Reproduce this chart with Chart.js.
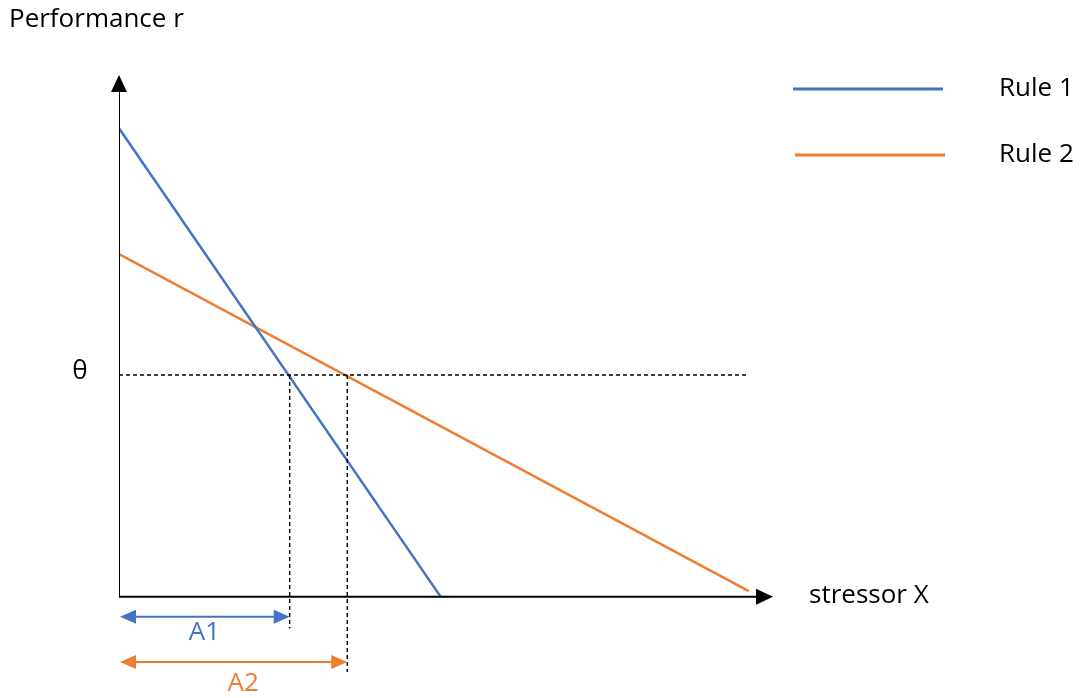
<!DOCTYPE html>
<html>
<head>
<meta charset="utf-8">
<script src="https://cdn.jsdelivr.net/npm/chart.js@4"></script>
<style>
  html, body { margin: 0; padding: 0; background: #ffffff; }
  #wrap { width: 1081px; height: 698px; position: relative; }
</style>
</head>
<body>
<div id="wrap"><canvas id="ruleChart"></canvas></div>
<script>
// values (schematic units)
const rule1Points = [{ x: 0, y: 8.98 }, { x: 4.92, y: 0 }];
const rule2Points = [{ x: 0, y: 6.57 }, { x: 9.63, y: 0.11 }];
const thetaValue = 4.25;
const thetaEnd = 9.62;
const a1Value = 2.61;
const a2Value = 3.49;
const a1Row = -0.38;
const a2Row = -1.25;
const seriesNames = ['Rule 1', 'Rule 2'];
const seriesColors = ['#4472C4', '#ED7D31'];

const FONT = '"Open Sans", "Liberation Sans", sans-serif';

const blackLine = (data, extra) => Object.assign({
    data: data,
    showLine: true,
    borderColor: '#000000',
    borderWidth: 1.4,
    pointRadius: 0,
    fill: false
}, extra || {});

// arrowheads, labels and the legend are drawn on top of the datasets
const decorPlugin = {
    id: 'decor',
    afterDatasetsDraw: (chart) => {
        const { ctx, scales: { x, y } } = chart;
        const px = (v) => x.getPixelForValue(v);
        const py = (v) => y.getPixelForValue(v);

        const head = (tx, ty, dx, dy, len, half, color) => {
            // tip at (tx,ty), pointing in direction (dx,dy)
            const bx = tx - dx * len, by = ty - dy * len;
            ctx.beginPath();
            ctx.moveTo(tx, ty);
            ctx.lineTo(bx - dy * half, by + dx * half);
            ctx.lineTo(bx + dy * half, by - dx * half);
            ctx.closePath();
            ctx.fillStyle = color;
            ctx.fill();
        };

        ctx.save();
        // axis arrows
        head(px(0), py(10), 0, -1, 17, 8, '#000000');
        head(px(10), py(0), 1, 0, 17, 8, '#000000');
        // A1 / A2 double arrows
        head(px(0) + 1, py(a1Row), -1, 0, 16, 7, seriesColors[0]);
        head(px(a1Value), py(a1Row), 1, 0, 16, 7, seriesColors[0]);
        head(px(0) + 1, py(a2Row), -1, 0, 16, 7, seriesColors[1]);
        head(px(a2Value), py(a2Row), 1, 0, 16, 7, seriesColors[1]);

        ctx.textBaseline = 'middle';
        ctx.font = '26px ' + FONT;
        ctx.fillStyle = '#000000';
        ctx.textAlign = 'left';
        ctx.fillText('Performance r', 9, 20);
        ctx.fillText('stressor X', 809, py(0) - 1);
        ctx.textAlign = 'center';
        ctx.fillText('θ', 80, py(thetaValue) - 3);

        ctx.fillStyle = seriesColors[0];
        ctx.fillText('A1', (px(0) + px(a1Value)) / 2, py(a1Row) + 16);
        ctx.fillStyle = seriesColors[1];
        ctx.fillText('A2', (px(0) + px(a2Value)) / 2 + 10, py(a2Row) + 22);

        // legend
        const legendRows = [89, 155];
        seriesNames.forEach((name, i) => {
            ctx.beginPath();
            ctx.moveTo(793 + i * 2, legendRows[i]);
            ctx.lineTo(943 + i * 2, legendRows[i]);
            ctx.lineWidth = 3;
            ctx.strokeStyle = seriesColors[i];
            ctx.stroke();
            ctx.fillStyle = '#000000';
            ctx.textAlign = 'left';
            ctx.fillText(name, 999, legendRows[i]);
        });
        ctx.restore();
    }
};

new Chart(document.getElementById('ruleChart').getContext('2d'), {
    type: 'scatter',
    plugins: [decorPlugin],
    data: {
        datasets: [
            blackLine([{ x: 0, y: thetaValue }, { x: thetaEnd, y: thetaValue }], { borderDash: [4, 3] }),
            blackLine([{ x: a1Value, y: thetaValue }, { x: a1Value, y: -0.6 }], { borderDash: [4, 3] }),
            blackLine([{ x: a2Value, y: thetaValue }, { x: a2Value, y: -1.44 }], { borderDash: [4, 3] }),
            blackLine([{ x: 0, y: 0 }, { x: 9.75, y: 0 }], { borderWidth: 2 }),
            blackLine([{ x: 0, y: 0 }, { x: 0, y: 9.7 }], { borderWidth: 2 }),
            {
                label: seriesNames[0],
                data: rule1Points,
                showLine: true,
                borderColor: seriesColors[0],
                borderWidth: 2.5,
                pointRadius: 0
            },
            {
                label: seriesNames[1],
                data: rule2Points,
                showLine: true,
                borderColor: seriesColors[1],
                borderWidth: 2.5,
                pointRadius: 0
            },
            blackLine([{ x: 0.2, y: a1Row }, { x: a1Value - 0.2, y: a1Row }], { borderColor: seriesColors[0], borderWidth: 2 }),
            blackLine([{ x: 0.2, y: a2Row }, { x: a2Value - 0.2, y: a2Row }], { borderColor: seriesColors[1], borderWidth: 2 })
        ]
    },
    options: {
        responsive: true,
        maintainAspectRatio: false,
        animation: false,
        layout: {
            padding: { left: 119, right: 308, top: 75, bottom: 2 }
        },
        plugins: {
            legend: { display: false },
            tooltip: { enabled: false }
        },
        scales: {
            x: { type: 'linear', min: 0, max: 10, display: false },
            y: { type: 'linear', min: -1.9, max: 10, display: false }
        }
    }
});
</script>
</body>
</html>
